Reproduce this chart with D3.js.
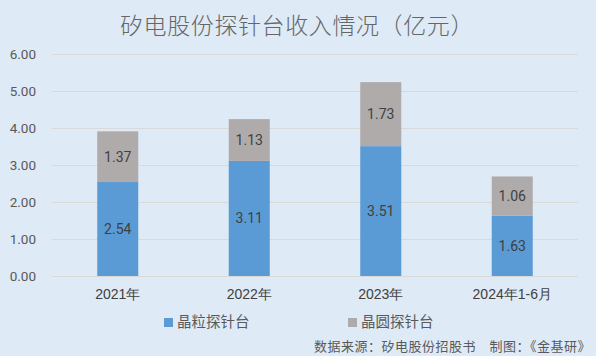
<!DOCTYPE html>
<html><head><meta charset="utf-8">
<script src="https://cdn.jsdelivr.net/npm/d3@7"></script>
<style>body{margin:0;background:#DEEAF6;}svg{display:block;font-family:"Noto Sans CJK SC","Microsoft YaHei",sans-serif;}</style>
</head><body><svg id="c" width="596" height="356"></svg>
<script>
const categories = ["2021年","2022年","2023年","2024年1-6月"];
const dieProber = [2.54,3.11,3.51,1.63];
const waferProber = [1.37,1.13,1.73,1.06];
const seriesNames = ["晶粒探针台","晶圆探针台"];
const yTicks = [0,1,2,3,4,5,6];
const colors = ["#5B9BD5","#AFABAB"];

(function(){
const svg = d3.select("#c");
svg.append("rect").attr("width",596).attr("height",356).attr("fill","#DEEAF6");
const pL=52,pR=578,pT=54,pB=276;
const x = d3.scaleBand().domain(categories).range([pL,pR]).paddingInner(0.688).paddingOuter(0.344);
const y = d3.scaleLinear().domain([0,6]).range([pB,pT]);

svg.append("text").attr("x",297).attr("y",34).attr("text-anchor","middle")
  .attr("font-size",23).attr("letter-spacing",0.6).attr("font-weight",300).attr("fill","#666666").text("矽电股份探针台收入情况（亿元）");

const ya = svg.append("g").attr("transform",`translate(${pL},0)`)
  .call(d3.axisLeft(y).tickValues(yTicks).tickFormat(d3.format(".2f")).tickSize(-(pR-pL)).tickPadding(16));
ya.select(".domain").remove();
ya.selectAll("line").attr("stroke","#D9D9D9").attr("stroke-width",1);
ya.selectAll("text").attr("font-size",13.5).attr("fill","#595959").attr("font-family","Roboto, 'Noto Sans', sans-serif");

const xa = svg.append("g").attr("transform",`translate(0,${pB})`)
  .call(d3.axisBottom(x).tickSize(0).tickPadding(13));
xa.select(".domain").remove();
xa.selectAll("text").attr("font-size",14).attr("fill","#404040");

const stacked = categories.map((c,i)=>({c,a:dieProber[i],b:waferProber[i]}));
const g = svg.append("g");
const lf = {"font-size":14,"fill":"#404040","font-family":"Roboto, 'Noto Sans', sans-serif"};
stacked.forEach(d=>{
  g.append("rect").attr("x",x(d.c)).attr("width",x.bandwidth()).attr("y",y(d.a)).attr("height",y(0)-y(d.a)).attr("fill",colors[0]);
  g.append("rect").attr("x",x(d.c)).attr("width",x.bandwidth()).attr("y",y(d.a+d.b)).attr("height",y(d.a)-y(d.a+d.b)).attr("fill",colors[1]);
  const cx = x(d.c)+x.bandwidth()/2;
  const t1 = g.append("text").attr("x",cx).attr("y",(y(0)+y(d.a))/2+5).attr("text-anchor","middle").text(d.a.toFixed(2));
  const t2 = g.append("text").attr("x",cx).attr("y",(y(d.a)+y(d.a+d.b))/2+5).attr("text-anchor","middle").text(d.b.toFixed(2));
  [t1,t2].forEach(t=>Object.entries(lf).forEach(([k,v])=>t.attr(k,v)));
});

const lx=[164,348];
seriesNames.forEach((n,i)=>{
  svg.append("rect").attr("x",lx[i]).attr("y",318).attr("width",9).attr("height",9).attr("fill",colors[i]);
  svg.append("text").attr("x",lx[i]+13).attr("y",327).attr("font-size",14.5).attr("fill","#595959").text(n);
});
svg.append("text").attr("x",591).attr("y",351).attr("text-anchor","end").attr("font-size",13).attr("letter-spacing",0.5).attr("fill","#595959").text("数据来源：矽电股份招股书　制图：《金基研》");
})();
</script></body></html>
